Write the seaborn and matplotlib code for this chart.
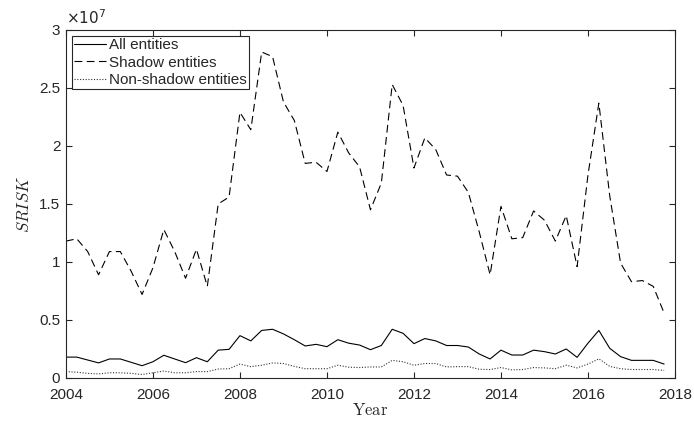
import numpy as np
import pandas as pd
import matplotlib
matplotlib.use("Agg")
import matplotlib.pyplot as plt
import seaborn as sns
from matplotlib.ticker import FuncFormatter

# Quarterly time axis (2004Q1 .. 2017Q4)
years = np.arange(2004, 2018, 0.25)

# Values in units of 1e7
all_entities = [0.18, 0.18, 0.155, 0.13, 0.164, 0.164, 0.135, 0.106, 0.14, 0.196,
                0.164, 0.132, 0.175, 0.14, 0.24, 0.247, 0.365, 0.32, 0.41, 0.42,
                0.38, 0.33, 0.276, 0.29, 0.27, 0.33, 0.30, 0.284, 0.244, 0.28,
                0.42, 0.385, 0.296, 0.34, 0.32, 0.28, 0.28, 0.267, 0.207, 0.164,
                0.24, 0.198, 0.198, 0.24, 0.227, 0.207, 0.25, 0.178, 0.30, 0.41,
                0.256, 0.184, 0.152, 0.152, 0.152, 0.12]
shadow_entities = [1.18, 1.20, 1.09, 0.89, 1.09, 1.09, 0.92, 0.72, 0.95, 1.28,
                   1.09, 0.86, 1.11, 0.79, 1.50, 1.56, 2.29, 2.14, 2.81, 2.77,
                   2.38, 2.22, 1.85, 1.86, 1.78, 2.12, 1.94, 1.82, 1.45, 1.68,
                   2.53, 2.35, 1.81, 2.07, 1.97, 1.75, 1.74, 1.60, 1.26, 0.89,
                   1.48, 1.20, 1.21, 1.44, 1.36, 1.18, 1.40, 0.96, 1.75, 2.37,
                   1.57, 0.99, 0.83, 0.84, 0.79, 0.56]
nonshadow_entities = [0.055, 0.05, 0.04, 0.035, 0.045, 0.045, 0.04, 0.03, 0.045, 0.06,
                      0.045, 0.045, 0.055, 0.055, 0.077, 0.08, 0.12, 0.098, 0.11, 0.13,
                      0.125, 0.10, 0.08, 0.08, 0.08, 0.11, 0.093, 0.09, 0.095, 0.095,
                      0.152, 0.14, 0.11, 0.125, 0.125, 0.095, 0.098, 0.098, 0.075, 0.073,
                      0.09, 0.07, 0.073, 0.09, 0.087, 0.08, 0.11, 0.087, 0.12, 0.165,
                      0.10, 0.08, 0.073, 0.073, 0.073, 0.065]
scale = 1e7

df = pd.DataFrame({
    "Year": years,
    "All entities": np.array(all_entities) * scale,
    "Shadow entities": np.array(shadow_entities) * scale,
    "Non-shadow entities": np.array(nonshadow_entities) * scale,
})

sns.set_style("white")
plt.rcParams["font.family"] = ["Liberation Sans", "DejaVu Sans"]
plt.rcParams["mathtext.fontset"] = "cm"

fig = plt.figure(figsize=(6.94, 4.26), dpi=100)
ax = fig.add_axes([0.095, 0.1127, 0.8776, 0.8169])

sns.lineplot(data=df, x="Year", y="All entities", ax=ax, color="black",
             linewidth=0.8, linestyle="-", label="All entities")
sns.lineplot(data=df, x="Year", y="Shadow entities", ax=ax, color="black",
             linewidth=0.8, linestyle=(0, (7, 4)), label="Shadow entities")
sns.lineplot(data=df, x="Year", y="Non-shadow entities", ax=ax, color="#333333",
             linewidth=0.8, linestyle=(0, (1, 1.5)), label="Non-shadow entities")

ax.set_xlim(2004, 2018)
ax.set_ylim(0, 3e7)
ax.set_xticks(np.arange(2004, 2019, 2))
ax.set_yticks(np.arange(0, 3.01e7, 0.5e7))
ax.yaxis.set_major_formatter(FuncFormatter(lambda v, p: f"{v/scale:g}"))
ax.xaxis.set_major_formatter(FuncFormatter(lambda v, p: f"{int(round(v))}"))

for s in ax.spines.values():
    s.set_visible(True)
    s.set_color("#262626")
    s.set_linewidth(0.8)
ax.tick_params(direction="in", length=4, width=0.8, color="#262626",
               top=True, right=True, bottom=True, left=True,
               labelsize=11, labelcolor="#262626")
ax.tick_params(axis="x", pad=7)
ax.tick_params(axis="y", pad=4)

ax.set_xlabel(r"$\mathrm{Year}$", fontsize=12, labelpad=0)
ax.set_ylabel(r"$SRISK$", fontsize=12, labelpad=5)
ax.text(0.0, 1.008, r"$\times10^{7}$", transform=ax.transAxes, fontsize=11,
        ha="left", va="bottom", color="#262626",
        fontfamily="DejaVu Sans", math_fontfamily="dejavusans")

leg = ax.legend(loc="upper left", fontsize=11, frameon=True, fancybox=False,
                edgecolor="#262626", framealpha=1, borderpad=0.15,
                labelspacing=0.22, handlelength=2.1, handletextpad=0.15,
                borderaxespad=0.4)
leg.get_frame().set_linewidth(0.8)

fig.savefig("out.png", dpi=100)
